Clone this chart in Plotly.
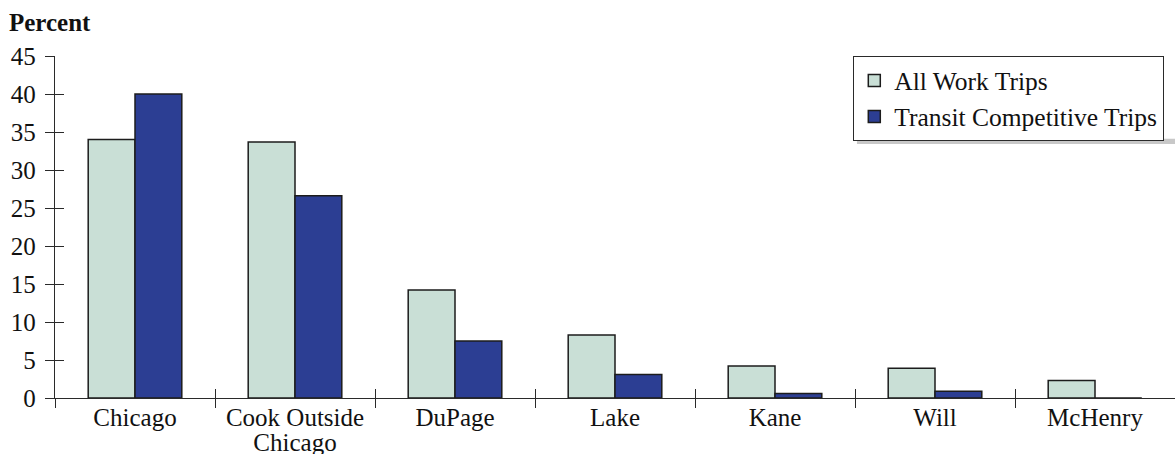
import plotly.graph_objects as go

# Share of work trips by county of destination
counties = ["Chicago", "Cook Outside<br>Chicago", "DuPage", "Lake", "Kane", "Will", "McHenry"]
all_work_trips = [34.0, 33.7, 14.2, 8.3, 4.2, 3.9, 2.3]
transit_competitive_trips = [40.0, 26.6, 7.5, 3.1, 0.6, 0.9, 0.0]
y_tick_values = [0, 5, 10, 15, 20, 25, 30, 35, 40, 45]

FONT = "Liberation Serif"
LIGHT = "#c9dfd6"
DARK = "#2c3e93"
EDGE = "#1c1c1c"
AXIS = "#2a2a2a"
TEXT = "#111111"
LABEL_PX = 25

# county labels: glyphs at LABEL_PX while the (smaller) base tick font keeps
# the two-line label tightly spaced
def styled(label):
    return "<br>".join(f"<span style='font-size:{LABEL_PX}px'>{part}</span>"
                       for part in label.split("<br>"))

county_ticktext = [styled(c) for c in counties]

fig = go.Figure()

fig.add_trace(go.Bar(
    name="All Work Trips", x=counties, y=all_work_trips,
    marker=dict(color=LIGHT, line=dict(color=EDGE, width=1.5)),
))
fig.add_trace(go.Bar(
    name="Transit Competitive Trips", x=counties, y=transit_competitive_trips,
    marker=dict(color=DARK, line=dict(color=EDGE, width=1.5)),
))

# invisible helper trace so the overlay axes (inner half of crossing ticks) get drawn
fig.add_trace(go.Scatter(
    x=counties, y=[0] * len(counties), xaxis="x2", yaxis="y2",
    mode="markers", marker=dict(opacity=0), showlegend=False, hoverinfo="skip",
))

n = len(counties)
common_x = dict(type="category", categoryorder="array", categoryarray=counties,
                range=[-0.5, n - 0.5], tickson="boundaries", ticklen=9,
                tickwidth=1.3, tickcolor=AXIS, showgrid=False, zeroline=False,
                automargin=False)
common_y = dict(range=[0, 45], tickmode="array", tickvals=y_tick_values, ticklen=9,
                tickwidth=1.3, tickcolor=AXIS, showgrid=False, zeroline=False,
                automargin=False)

fig.update_layout(
    width=1175, height=454,
    margin=dict(l=55, r=0, t=56, b=56),
    paper_bgcolor="white", plot_bgcolor="white",
    barmode="group", bargap=0.415, bargroupgap=0,
    font=dict(family=FONT, size=25, color=TEXT),
    xaxis=dict(**common_x, ticks="outside", showline=True, linecolor=AXIS, linewidth=1.3,
               tickmode="array", tickvals=counties, ticktext=county_ticktext,
               ticklabelstandoff=4,
               tickfont=dict(family=FONT, size=19, color=TEXT)),
    xaxis2=dict(**common_x, ticks="inside", overlaying="x", anchor="y", showline=False,
                showticklabels=False),
    yaxis=dict(**common_y, ticks="outside", showline=True, linecolor=AXIS, linewidth=1.3,
               ticklabelstandoff=4,
               tickfont=dict(family=FONT, size=25, color=TEXT)),
    yaxis2=dict(**common_y, ticks="inside", overlaying="y", anchor="x", side="left",
                showline=False, showticklabels=False),
    legend=dict(x=0.7125, y=1.0, xanchor="left", yanchor="top",
                bgcolor="white", bordercolor=AXIS, borderwidth=1.3,
                font=dict(family=FONT, size=25.5, color=TEXT)),
    annotations=[dict(text="<b>Percent</b>", xref="paper", yref="paper",
                      x=-0.043, y=1.099, xanchor="left", yanchor="middle",
                      showarrow=False, font=dict(family=FONT, size=25, color=TEXT))],
    # drop shadow under the legend box
    shapes=[dict(type="rect", xref="paper", yref="paper", layer="above",
                 x0=0.716, x1=1.0, y0=0.7427, y1=0.758,
                 fillcolor="#c8c8c8", line=dict(width=0))],
    showlegend=True,
)

fig.write_html("out.html")
